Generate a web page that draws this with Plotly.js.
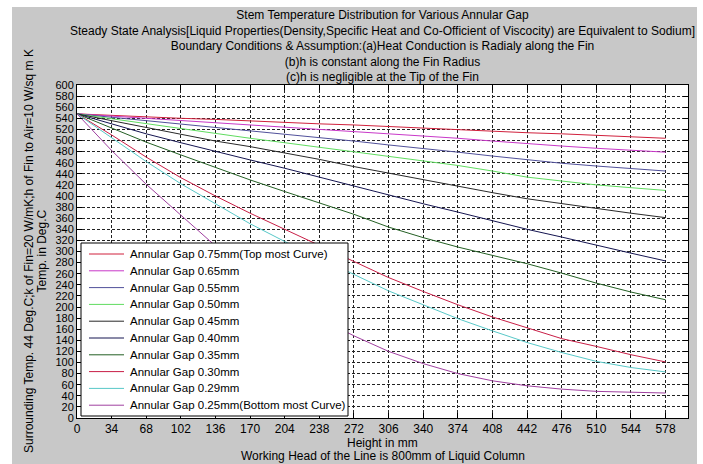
<!DOCTYPE html>
<html>
<head>
<meta charset="utf-8">
<script src="https://cdn.plot.ly/plotly-3.0.1.min.js"></script>
<style>
  html, body { margin: 0; padding: 0; background: #ffffff; }
  #bg { position: absolute; left: 12px; top: 7px; width: 685px; height: 457px; background: #c8c8c8; }
  #chart { position: absolute; left: 0; top: 0; width: 703px; height: 464px; }
</style>
</head>
<body>
<div id="bg"></div>
<div id="chart"></div>
<script>
// Height in mm (x positions of samples)
const heights = [0, 34, 68, 102, 136, 170, 204, 238, 272, 306, 340, 374, 408, 442, 476, 510, 544, 578];
const xTicks = [0, 34, 68, 102, 136, 170, 204, 238, 272, 306, 340, 374, 408, 442, 476, 510, 544, 578];

// Stem temperature (Deg.C) for each annular gap
const gap075 = [548, 545, 543, 540, 538, 535, 533, 530, 528, 525, 523, 520, 517, 514, 512, 509, 506, 504];
const gap065 = [548, 544, 540, 536, 532, 529, 525, 521, 517, 513, 509, 504, 499, 494, 490, 486, 482, 479];
const gap055 = [548, 542, 536, 530, 524, 518, 512, 505, 499, 492, 486, 479, 472, 465, 459, 454, 449, 445];
const gap050 = [548, 539, 530, 521, 512, 504, 496, 488, 479, 471, 463, 455, 445, 434, 427, 420, 415, 410];
const gap045 = [548, 536, 523, 511, 499, 489, 478, 466, 453, 441, 429, 418, 406, 395, 386, 377, 369, 361];
const gap040 = [548, 530, 512, 496, 480, 465, 450, 434, 417, 401, 386, 371, 355, 340, 326, 311, 297, 283];
const gap035 = [548, 522, 497, 474, 451, 429, 408, 388, 367, 344, 325, 308, 293, 278, 261, 243, 227, 213];
const gap030 = [548, 510, 470, 433, 400, 369, 340, 311, 283, 253, 228, 204, 182, 162, 143, 129, 114, 101];
const gap029 = [548, 505, 462, 422, 386, 350, 318, 288, 259, 229, 204, 179, 157, 136, 118, 102, 91, 83];
const gap025 = [548, 482, 421, 365, 310, 262, 218, 180, 148, 120, 98, 80, 67, 58, 52, 48, 46, 45];

const seriesNames = [
  "Annular Gap 0.75mm(Top most Curve)",
  "Annular Gap 0.65mm",
  "Annular Gap 0.55mm",
  "Annular Gap 0.50mm",
  "Annular Gap 0.45mm",
  "Annular Gap 0.40mm",
  "Annular Gap 0.35mm",
  "Annular Gap 0.30mm",
  "Annular Gap 0.29mm",
  "Annular Gap 0.25mm(Bottom most Curve)"
];
const seriesData = [gap075, gap065, gap055, gap050, gap045, gap040, gap035, gap030, gap029, gap025];
const seriesColors = ["#d0203c", "#c838c8", "#50509a", "#60dc60", "#282828", "#141450", "#246024", "#c81e46", "#58c8c8", "#a040a0"];

const yTitleLines = [
  "Surrounding Temp. 44 Deg.C;k of Fin=20 W/mK;h of Fin to Air=10 W/sq m K",
  "Temp. in Deg.C"
];
const xTitleLines = [
  "Height in mm",
  "Working Head of the Line is 800mm of Liquid Column"
];

const FONT = "Liberation Sans, Arial, Helvetica, sans-serif";

const traces = seriesData.map((ys, i) => ({
  type: "scatter",
  mode: "lines",
  x: heights,
  y: ys,
  name: seriesNames[i],
  line: { color: seriesColors[i], width: 1 },
  showlegend: false
}));

// Manual legend box (MATLAB-like compact layout)
const L = { left: 81, right: 348, top: 243, bottom: 416, firstY: 254, step: 16.8, lineX0: 89, lineX1: 124, textX: 128 };
const plotL = 77, plotR = 688, plotT = 85, plotB = 418;
const px2x = p => (p - plotL) / (plotR - plotL);
const px2y = p => (plotB - p) / (plotB - plotT);

const shapes = [{
  type: "rect", xref: "paper", yref: "paper",
  x0: px2x(L.left), x1: px2x(L.right), y0: px2y(L.bottom), y1: px2y(L.top),
  fillcolor: "#ffffff", line: { color: "#000000", width: 1 }, layer: "above"
}];
const annotations = [];
seriesNames.forEach((nm, i) => {
  const yy = px2y(L.firstY + i * L.step);
  shapes.push({
    type: "line", xref: "paper", yref: "paper",
    x0: px2x(L.lineX0), x1: px2x(L.lineX1), y0: yy, y1: yy,
    line: { color: seriesColors[i], width: 1 }, layer: "above"
  });
  annotations.push({
    xref: "paper", yref: "paper", x: px2x(L.textX), y: yy,
    xanchor: "left", yanchor: "middle", showarrow: false,
    text: nm, font: { family: FONT, size: 11.5, color: "#000000" }
  });
});

// Two-line vertical axis label (MATLAB-style tight line spacing)
const yTitleX = [28.5, 41];
yTitleLines.forEach((t, i) => {
  annotations.push({
    xref: "paper", yref: "paper", x: px2x(yTitleX[i]), y: 0.5,
    xanchor: "center", yanchor: "middle", showarrow: false, textangle: -90,
    text: t, font: { family: FONT, size: 12, color: "#000000" }
  });
});
// Two-line horizontal axis label
const xTitleY = [443.5, 455.5];
xTitleLines.forEach((t, i) => {
  annotations.push({
    xref: "paper", yref: "paper", x: 0.5, y: px2y(xTitleY[i]),
    xanchor: "center", yanchor: "middle", showarrow: false,
    text: t, font: { family: FONT, size: 12, color: "#000000" }, borderpad: 0
  });
});

const layout = {
  width: 703, height: 464,
  margin: { l: plotL, r: 703 - plotR, t: plotT, b: 464 - plotB },
  paper_bgcolor: "rgba(0,0,0,0)",
  plot_bgcolor: "#ffffff",
  font: { family: FONT, size: 12, color: "#000000" },
  title: {
    text: "Stem Temperature Distribution for Various Annular Gap<br>Steady State Analysis[Liquid Properties(Density,Specific Heat and Co-Officient of Viscocity) are Equivalent to Sodium]<br>Boundary Conditions & Assumption:(a)Heat Conduction is Radialy along the Fin<br>(b)h is constant along the Fin Radius<br>(c)h is negligible at the Tip of the Fin",
    font: { family: FONT, size: 12, color: "#000000" },
    x: 0.5, xref: "paper", xanchor: "center",
    y: 1 - 19 / 464, yref: "container", yanchor: "top"
  },
  xaxis: {
    range: [0, 600],
    tickmode: "array", tickvals: xTicks, ticktext: xTicks.map(String),
    ticks: "inside", ticklen: 5, tickcolor: "#000000",
    showline: true, linecolor: "#000000", linewidth: 1, mirror: "allticks",
    showgrid: true, gridcolor: "#222222", gridwidth: 1, griddash: "3px,2px",
    zeroline: false,
    tickfont: { family: FONT, size: 12, color: "#000000" }
  },
  yaxis: {
    range: [0, 600],
    tick0: 0, dtick: 20,
    ticks: "inside", ticklen: 5, tickcolor: "#000000",
    showline: true, linecolor: "#000000", linewidth: 1, mirror: "allticks",
    showgrid: true, gridcolor: "#222222", gridwidth: 1, griddash: "3px,2px",
    zeroline: false,
    tickfont: { family: FONT, size: 11, color: "#000000" }
  },
  shapes: shapes,
  annotations: annotations
};

Plotly.newPlot("chart", traces, layout, { staticPlot: true, displayModeBar: false });
</script>
</body>
</html>
